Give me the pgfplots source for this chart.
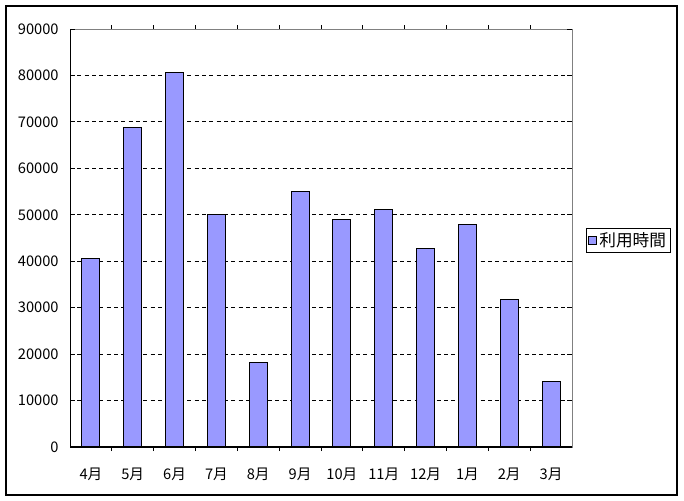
\documentclass[border=0pt]{standalone}
\usepackage{fontspec}
\setmainfont{Noto Sans CJK JP}
\usepackage{pgfplots}
\pgfplotsset{compat=1.18}
\definecolor{barblue}{HTML}{9999FF}

\begin{document}
\begin{tikzpicture}[x=0.75pt,y=0.75pt]
% page = 684 x 500 px, 1px = 0.75pt
\useasboundingbox (0,0) rectangle (684,500);
\draw[black, line width=0.9pt] (6,5) rectangle (677,494);
\begin{axis}[
    at={(52.5pt,39.75pt)}, anchor=south west,
    scale only axis,
    width=376.5pt, height=313.5pt,
    ybar, bar width=13.5pt,
    xmin=-0.5, xmax=11.5,
    ymin=0, ymax=90000,
    xtick={0,...,11},
    xticklabels={4月,5月,6月,7月,8月,9月,10月,11月,12月,1月,2月,3月},
    major x tick style={draw=none},
    minor xtick={0.5,1.5,...,10.5},
    minor tick length=3pt,
    minor x tick style={black, line width=0.75pt},
    ytick={0,10000,...,80000},
    extra y ticks={90000},
    extra y tick style={grid=none},
    major tick length=3.5pt,
    ytick style={black, line width=0.75pt},
    ymajorgrids,
    major grid style={black, line width=0.6pt, dash pattern=on 3pt off 2.5pt},
    axis line style={gray, line width=0.75pt},
    scaled y ticks=false,
    /pgf/number format/assume math mode=true,
    yticklabel style={/pgf/number format/1000 sep={}, font=\fontsize{11}{13}\selectfont, xshift=-5pt},
    xticklabel style={font=\fontsize{11}{13}\selectfont, yshift=-9pt},
    legend style={at={(1.028,0.524)}, anchor=north west, draw=black, line width=0.75pt,
        font=\fontsize{12.5}{14}\selectfont, inner sep=1pt, row sep=0pt},
    legend image code/.code={\draw[fill=barblue, draw=black, line width=0.6pt] (0pt,-3pt) rectangle (6pt,3pt);},
]
\addplot[fill=barblue, draw=black, line width=0.75pt] coordinates {
    (0,40500) (1,68700) (2,80700) (3,50000) (4,18300) (5,55000)
    (6,49000) (7,51200) (8,42800) (9,47800) (10,31700) (11,14200)
};
\addlegendentry{利用時間}
\draw[black, line width=0.9pt] (rel axis cs:0,1) -- (rel axis cs:0,0) -- (rel axis cs:1,0);
\end{axis}
\end{tikzpicture}
\end{document}
